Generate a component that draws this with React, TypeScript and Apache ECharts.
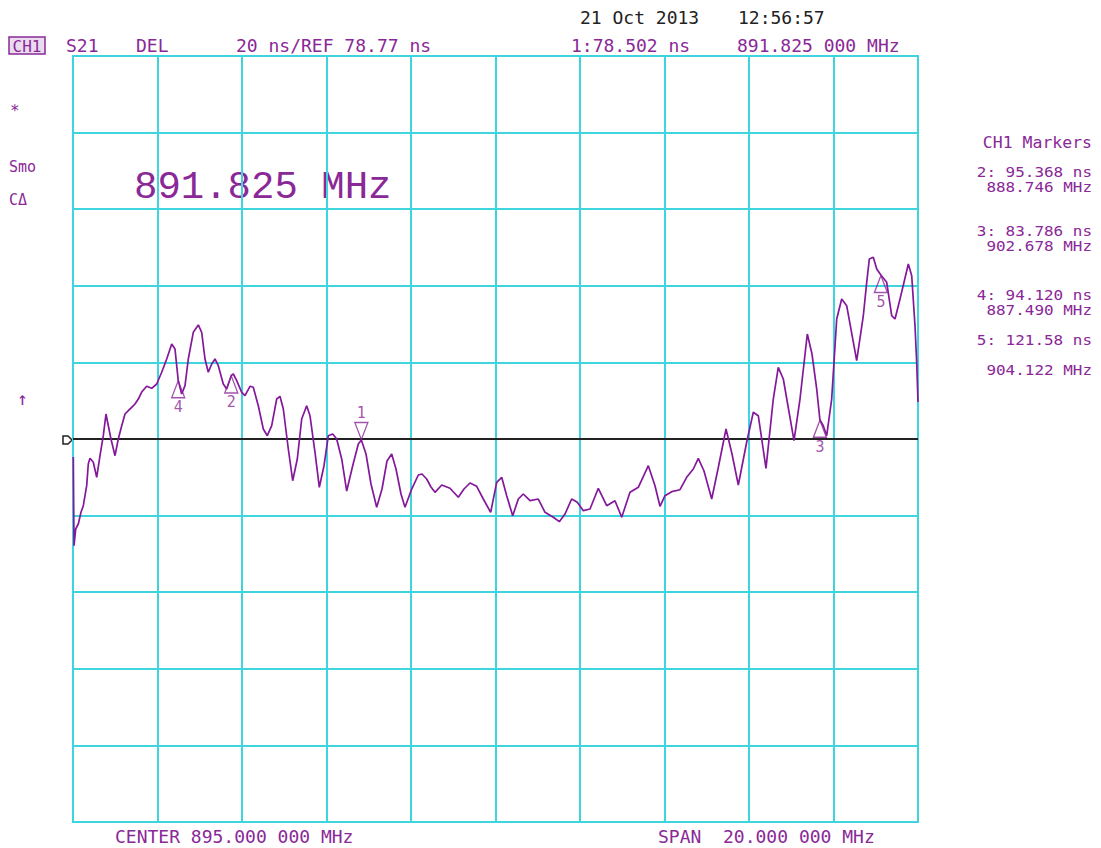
import React, { useEffect, useRef } from "react";
import * as echarts from "echarts";

// ---- Data ----
const CENTER_MHZ = 895.0;
const SPAN_MHZ = 20.0;
const REF_NS = 78.77;
const NS_PER_DIV = 20;

const FREQ_MHZ = [
  885.007, 885.024, 885.064, 885.125, 885.189, 885.244, 885.324, 885.362, 885.402, 885.48,
  885.561, 885.639, 885.717, 885.781, 885.836, 885.899, 885.994, 886.072, 886.153, 886.231,
  886.309, 886.389, 886.467, 886.546, 886.626, 886.744, 886.863, 886.981, 887.099, 887.218,
  887.336, 887.414, 887.49, 887.572, 887.651, 887.729, 887.847, 887.966, 888.046, 888.124,
  888.202, 888.283, 888.361, 888.439, 888.557, 888.638, 888.746, 888.794, 888.875, 888.993,
  889.071, 889.189, 889.267, 889.386, 889.504, 889.599, 889.703, 889.821, 889.899, 889.978,
  890.096, 890.2, 890.309, 890.413, 890.531, 890.609, 890.728, 890.83, 890.941, 891.043,
  891.147, 891.241, 891.36, 891.478, 891.62, 891.753, 891.825, 891.935, 892.053, 892.188,
  892.314, 892.432, 892.543, 892.645, 892.763, 892.858, 893.017, 893.173, 893.26, 893.371,
  893.473, 893.568, 893.727, 893.923, 894.12, 894.254, 894.396, 894.555, 894.711, 894.886,
  895.028, 895.147, 895.265, 895.407, 895.54, 895.658, 895.817, 896.013, 896.172, 896.368,
  896.51, 896.645, 896.803, 896.936, 897.078, 897.237, 897.433, 897.632, 897.828, 897.987,
  898.183, 898.38, 898.617, 898.775, 898.893, 899.012, 899.17, 899.367, 899.525, 899.682,
  899.8, 899.935, 900.117, 900.266, 900.456, 900.598, 900.747, 900.946, 901.102, 901.22,
  901.402, 901.575, 901.693, 901.812, 902.065, 902.207, 902.38, 902.491, 902.602, 902.678,
  902.758, 902.839, 902.957, 903.076, 903.194, 903.312, 903.549, 903.706, 903.786, 903.848,
  903.942, 904.023, 904.122, 904.259, 904.378, 904.456, 904.574, 904.669, 904.771, 904.851,
  904.929, 904.969, 905.0,
];

const DELAY_NS = [
  74.07, 50.91, 55.27, 56.58, 59.63, 61.35, 66.58, 72.24, 73.73, 72.69,
  68.77, 74.41, 79.63, 85.3, 82.24, 78.77, 74.41, 78.77, 82.24, 85.3,
  86.16, 87.05, 87.91, 89.21, 91.04, 92.53, 92.01, 93.13, 96.19, 99.66,
  103.57, 102.27, 94.12, 90.52, 92.69, 99.66, 106.63, 108.54, 106.63, 99.66,
  96.19, 98.35, 99.66, 97.91, 93.13, 91.82, 95.37, 95.74, 93.99, 90.96,
  90.08, 92.53, 92.27, 87.46, 81.38, 79.63, 82.24, 89.21, 89.92, 86.6,
  76.16, 67.88, 73.55, 83.99, 87.46, 84.85, 75.3, 66.16, 71.8, 79.63,
  80.08, 78.77, 73.55, 65.19, 71.8, 77.46, 78.5, 74.85, 67.02, 60.94,
  65.71, 73.03, 74.85, 70.94, 64.41, 60.94, 65.71, 69.37, 69.63, 68.33,
  66.24, 64.85, 66.76, 65.9, 63.55, 65.71, 67.28, 66.42, 63.1, 59.63,
  67.46, 68.77, 63.97, 58.74, 63.1, 64.41, 62.66, 63.1, 59.63, 58.33,
  57.18, 59.19, 63.1, 62.24, 60.05, 60.49, 65.9, 61.35, 62.66, 58.33,
  64.85, 66.16, 71.8, 66.58, 61.2, 63.97, 65.01, 65.53, 68.77, 70.94,
  73.73, 70.41, 63.1, 70.94, 81.38, 74.85, 66.76, 77.99, 85.74, 84.85,
  71.12, 89.21, 97.49, 94.44, 78.33, 89.21, 106.19, 100.96, 91.83, 83.79,
  82.24, 79.63, 89.21, 110.1, 115.32, 113.57, 99.21, 110.96, 119.68, 125.77,
  126.21, 123.16, 121.58, 119.68, 110.96, 110.1, 115.32, 119.68, 124.46, 121.41,
  108.35, 98.8, 88.43,
];

const MARKER_IDS = ["1", "2", "3", "4", "5"];
const MARKER_FREQ_MHZ = [891.825, 888.746, 902.678, 887.49, 904.122];
const MARKER_DELAY_NS = [78.502, 95.368, 83.786, 94.12, 121.58];

const MARKER_TABLE = [
  ["2: 95.368 ns", "888.746 MHz"],
  ["3: 83.786 ns", "902.678 MHz"],
  ["4: 94.120 ns", "887.490 MHz"],
  ["5: 121.58 ns", "904.122 MHz"],
];

const PURPLE = "#8a2898";
const TRACE = "#84189a";
const CYAN = "#3fd5de";
const MONO = "'DejaVu Sans Mono', 'Liberation Mono', monospace";

export default function App() {
  const ref = useRef<HTMLDivElement | null>(null);

  useEffect(() => {
    if (!ref.current) return;
    const chart = echarts.init(ref.current, null, { renderer: "svg" });
    const startMHz = CENTER_MHZ - SPAN_MHZ / 2;
    const lineData = FREQ_MHZ.map((f, i) => [f - startMHz, DELAY_NS[i] - REF_NS]);

    const invTri = "path://M0,0L14,0L7,18Z";
    const upTri = "path://M7,0L14,18L0,18Z";
    const markerData = MARKER_IDS.map((id, i) => {
      const active = i === 0;
      return {
        name: id,
        value: [MARKER_FREQ_MHZ[i] - startMHz, MARKER_DELAY_NS[i] - REF_NS],
        symbol: active ? invTri : upTri,
        symbolOffset: [0, active ? -9 : 9],
        label: { position: active ? "top" : "bottom" },
      };
    });

    const t = (text: string, x: number, y: number, size: number, extra: any = {}, el: any = {}) => ({
      type: "text",
      x,
      y,
      silent: true,
      ...el,
      style: {
        text,
        font: `${size}px ${MONO}`,
        fill: PURPLE,
        textAlign: "left",
        textVerticalAlign: "middle",
        ...extra,
      },
    });

    const tableRows = [
      [172, 187],
      [231, 246],
      [295, 310],
      [340, 370],
    ];

    const graphic: any[] = [
      // date/time
      t("21 Oct 2013", 580, 17, 18, { fill: "#222" }),
      t("12:56:57", 738, 17, 18, { fill: "#222" }),
      // header row
      {
        type: "rect",
        shape: { x: 9, y: 37, width: 36, height: 17 },
        style: { fill: "#eadcef", stroke: PURPLE, lineWidth: 1.5 },
        silent: true,
      },
      t("CH1", 27, 46, 16, { textAlign: "center" }),
      t("S21", 66, 45, 18),
      t("DEL", 136, 45, 18),
      t("20 ns/REF 78.77 ns", 236, 45, 18),
      t("1:78.502 ns", 571, 45, 18),
      t("891.825 000 MHz", 737, 45, 18),
      // left annotations
      t("*", 10, 110, 16),
      t("Smo", 9, 167, 15),
      t("C\u0394", 9, 200, 15),
      t("\u2191", 17, 398, 18),
      // big marker frequency
      {
        type: "text",
        x: 134,
        y: 188,
        silent: true,
        style: {
          text: "891.825 MHz",
          font: `39px 'Liberation Mono', monospace`,
          fill: PURPLE,
          textAlign: "left",
          textVerticalAlign: "middle",
        },
      },
      // right marker table
      t("CH1 Markers", 1092, 143, 15, { textAlign: "right" }, { scaleX: 1.1 }),
      ...MARKER_TABLE.flatMap((row, i) => {
        const ys = tableRows[i];
        return [
          t(row[0], 1092, ys[0], 14, { textAlign: "right", lineHeight: 14 }, { scaleX: 1.14 }),
          t(row[1], 1092, ys[1], 14, { textAlign: "right", lineHeight: 14 }, { scaleX: 1.14 }),
        ];
      }),
      // bottom annotations
      t("CENTER 895.000 000 MHz", 115, 836, 18),
      t("SPAN  20.000 000 MHz", 658, 836, 18),
      // reference position marker
      {
        type: "polygon",
        shape: {
          points: [
            [63, 436],
            [68, 436],
            [72, 440],
            [68, 444],
            [63, 444],
          ],
        },
        style: { fill: "#fff", stroke: "#222", lineWidth: 1.5 },
        silent: true,
      },
    ];

    chart.setOption({
      animation: false,
      backgroundColor: "#ffffff",
      grid: {
        left: 73,
        top: 56,
        width: 845,
        height: 766,
        show: true,
        borderColor: CYAN,
        borderWidth: 2,
      },
      xAxis: {
        type: "value",
        min: 0,
        max: SPAN_MHZ,
        interval: SPAN_MHZ / 10,
        axisLine: { show: false },
        axisTick: { show: false },
        axisLabel: { show: false },
        splitLine: { show: true, lineStyle: { color: CYAN, width: 2 } },
      },
      yAxis: {
        type: "value",
        min: -5 * NS_PER_DIV,
        max: 5 * NS_PER_DIV,
        interval: NS_PER_DIV,
        axisLine: { show: false },
        axisTick: { show: false },
        axisLabel: { show: false },
        splitLine: { show: true, lineStyle: { color: CYAN, width: 2 } },
      },
      series: [
        {
          type: "line",
          data: lineData,
          showSymbol: false,
          lineStyle: { color: TRACE, width: 1.7 },
          z: 3,
          markLine: {
            silent: true,
            symbol: "none",
            label: { show: false },
            lineStyle: { color: "#222", width: 2, type: "solid" },
            data: [{ yAxis: 0 }],
            z: 2,
          },
        },
        {
          type: "scatter",
          data: markerData,
          symbolSize: [13, 17],
          z: 4,
          itemStyle: { color: "rgba(255,255,255,0)", borderColor: PURPLE, borderWidth: 1.4 },
          label: {
            show: true,
            formatter: (p: any) => p.name,
            color: PURPLE,
            fontFamily: MONO,
            fontSize: 15,
            distance: 1,
          },
        },
      ],
      graphic,
    });

    return () => chart.dispose();
  }, []);

  return (
    <div
      ref={ref}
      style={{ position: "fixed", left: 0, top: 0, width: 1101, height: 848, background: "#fff" }}
    />
  );
}
